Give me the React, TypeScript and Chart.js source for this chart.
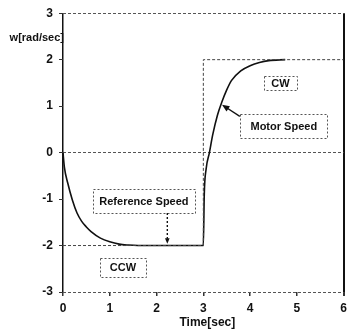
import React, { useEffect, useRef } from "react";
import { Chart, registerables } from "chart.js";

Chart.register(...registerables);

// ---- data ----
const xTicks = [0, 1, 2, 3, 4, 5, 6];
const yTicks = [-3, -2, -1, 0, 1, 2, 3];

const refTime = [0, 3, 3, 6];
const refSpeed = [-2, -2, 2, 2];

const motorTime = [0, 0.03, 0.1, 0.2, 0.3, 0.4, 0.5, 0.6, 0.8, 1.0, 1.2, 1.4, 1.6, 2.0, 2.5, 3.0, 3.02, 3.06, 3.13, 3.2, 3.3, 3.4, 3.5, 3.6, 3.8, 4.0, 4.2, 4.4, 4.75];
const motorSpeed = [0, -0.32, -0.65, -1.02, -1.3, -1.48, -1.6, -1.7, -1.84, -1.92, -1.97, -1.99, -2, -2, -2, -2, -0.9, -0.35, 0, 0.38, 0.8, 1.1, 1.35, 1.55, 1.76, 1.87, 1.94, 1.98, 2];

const labelTexts = ["CW", "Motor Speed", "Reference Speed", "CCW"];
const labelTime = [4.65, 4.72, 1.73, 1.28];
const labelSpeed = [1.5, 0.57, -1.04, -2.47];

const FONT = "'Liberation Sans', Arial, sans-serif";

const boxStyle = [
  { w: 33, h: 14 },
  { w: 87, h: 24 },
  { w: 102, h: 24 },
  { w: 46, h: 19 },
];

function arrow(ctx: CanvasRenderingContext2D, x1: number, y1: number, x2: number, y2: number, dash: number[], head: number) {
  ctx.save();
  ctx.strokeStyle = "#111";
  ctx.fillStyle = "#111";
  ctx.lineWidth = 1.4;
  ctx.setLineDash(dash);
  const ang = Math.atan2(y2 - y1, x2 - x1);
  ctx.beginPath();
  ctx.moveTo(x1, y1);
  ctx.lineTo(x2 - Math.cos(ang) * head * 0.8, y2 - Math.sin(ang) * head * 0.8);
  ctx.stroke();
  ctx.setLineDash([]);
  ctx.beginPath();
  ctx.moveTo(x2, y2);
  ctx.lineTo(x2 - head * Math.cos(ang - 0.4), y2 - head * Math.sin(ang - 0.4));
  ctx.lineTo(x2 - head * Math.cos(ang + 0.4), y2 - head * Math.sin(ang + 0.4));
  ctx.closePath();
  ctx.fill();
  ctx.restore();
}

const annotPlugin = {
  id: "annot",
  afterDatasetsDraw(chart: any) {
    const ctx: CanvasRenderingContext2D = chart.ctx;
    const xs = chart.scales.x;
    const ys = chart.scales.y;
    const area = chart.chartArea;
    ctx.save();
    labelTexts.forEach((t, i) => {
      const cx = xs.getPixelForValue(labelTime[i]);
      const cy = ys.getPixelForValue(labelSpeed[i]);
      const b = boxStyle[i];
      ctx.fillStyle = "#fff";
      ctx.fillRect(cx - b.w / 2, cy - b.h / 2, b.w, b.h);
      ctx.strokeStyle = "#555";
      ctx.lineWidth = 1;
      ctx.setLineDash([2, 2]);
      ctx.strokeRect(Math.round(cx - b.w / 2) + 0.5, Math.round(cy - b.h / 2) + 0.5, b.w, b.h);
      ctx.setLineDash([]);
      ctx.fillStyle = "#111";
      ctx.font = `bold 11px ${FONT}`;
      ctx.textAlign = "center";
      ctx.textBaseline = "middle";
      ctx.fillText(t, cx, cy + 1);
    });
    arrow(ctx, xs.getPixelForValue(3.78), ys.getPixelForValue(0.78), xs.getPixelForValue(3.4), ys.getPixelForValue(1.03), [], 8);
    arrow(ctx, xs.getPixelForValue(2.23), ys.getPixelForValue(-1.3), xs.getPixelForValue(2.23), ys.getPixelForValue(-1.96), [2, 2], 6);
    ctx.fillStyle = "#111";
    ctx.font = `bold 11px ${FONT}`;
    ctx.textAlign = "right";
    ctx.textBaseline = "middle";
    ctx.fillText("w[rad/sec]", area.left + 1, 38);
    ctx.font = `bold 12px ${FONT}`;
    ctx.textAlign = "center";
    ctx.fillText("Time[sec]", (area.left + area.right) / 2 + 4, 323);
    ctx.restore();
  },
};

export default function App() {
  const ref = useRef<HTMLCanvasElement>(null);
  useEffect(() => {
    if (!ref.current) return;
    const chart = new Chart(ref.current, {
      type: "line",
      data: {
        datasets: [
          {
            label: "Reference Speed",
            data: refTime.map((t, i) => ({ x: t, y: refSpeed[i] })),
            borderColor: "#444",
            borderWidth: 1,
            borderDash: [3, 2],
            pointRadius: 0,
            fill: false,
          },
          {
            label: "Motor Speed",
            data: motorTime.map((t, i) => ({ x: t, y: motorSpeed[i] })),
            borderColor: "#111",
            borderWidth: 1.6,
            pointRadius: 0,
            cubicInterpolationMode: "monotone",
            fill: false,
          },
        ],
      },
      options: {
        animation: false,
        responsive: true,
        maintainAspectRatio: false,
        layout: { padding: { top: 9, right: 7, left: 0, bottom: 0 } },
        plugins: { legend: { display: false }, tooltip: { enabled: false }, title: { display: false } },
        scales: {
          x: {
            type: "linear",
            min: 0,
            max: 6,
            afterBuildTicks: (s: any) => { s.ticks = xTicks.map((v) => ({ value: v })); },
            afterFit: (s: any) => { s.height = 39; },
            ticks: { color: "#111", font: { family: FONT, size: 12, weight: "bold" }, padding: 5 },
            grid: {
              color: (c: any) => (c.tick && (c.tick.value === 0 || c.tick.value === 6) ? "#111" : "rgba(0,0,0,0)"),
              lineWidth: (c: any) => (c.tick && c.tick.value === 6 ? 2 : 1.5),
              tickColor: "#333",
              tickLength: 4,
            },
            border: { display: false },
          },
          y: {
            type: "linear",
            min: -3,
            max: 3,
            afterBuildTicks: (s: any) => { s.ticks = yTicks.map((v) => ({ value: v })); },
            afterFit: (s: any) => { s.width = 63; },
            ticks: { color: "#111", font: { family: FONT, size: 12, weight: "bold" }, padding: 6 },
            grid: {
              color: (c: any) => (c.tick && (c.tick.value === 0 || c.tick.value === 3 || c.tick.value === -3) ? "#555" : "rgba(0,0,0,0)"),
              lineWidth: 1,
              tickColor: "#333",
              tickLength: 4,
              tickBorderDash: [],
            },
            border: { display: false, dash: [3, 2] },
          },
        },
      },
      plugins: [annotPlugin],
    });
    return () => chart.destroy();
  }, []);
  return (
    <div style={{ position: "fixed", left: 0, top: 0, width: 352, height: 331, background: "#fff" }}>
      <canvas ref={ref} />
    </div>
  );
}
